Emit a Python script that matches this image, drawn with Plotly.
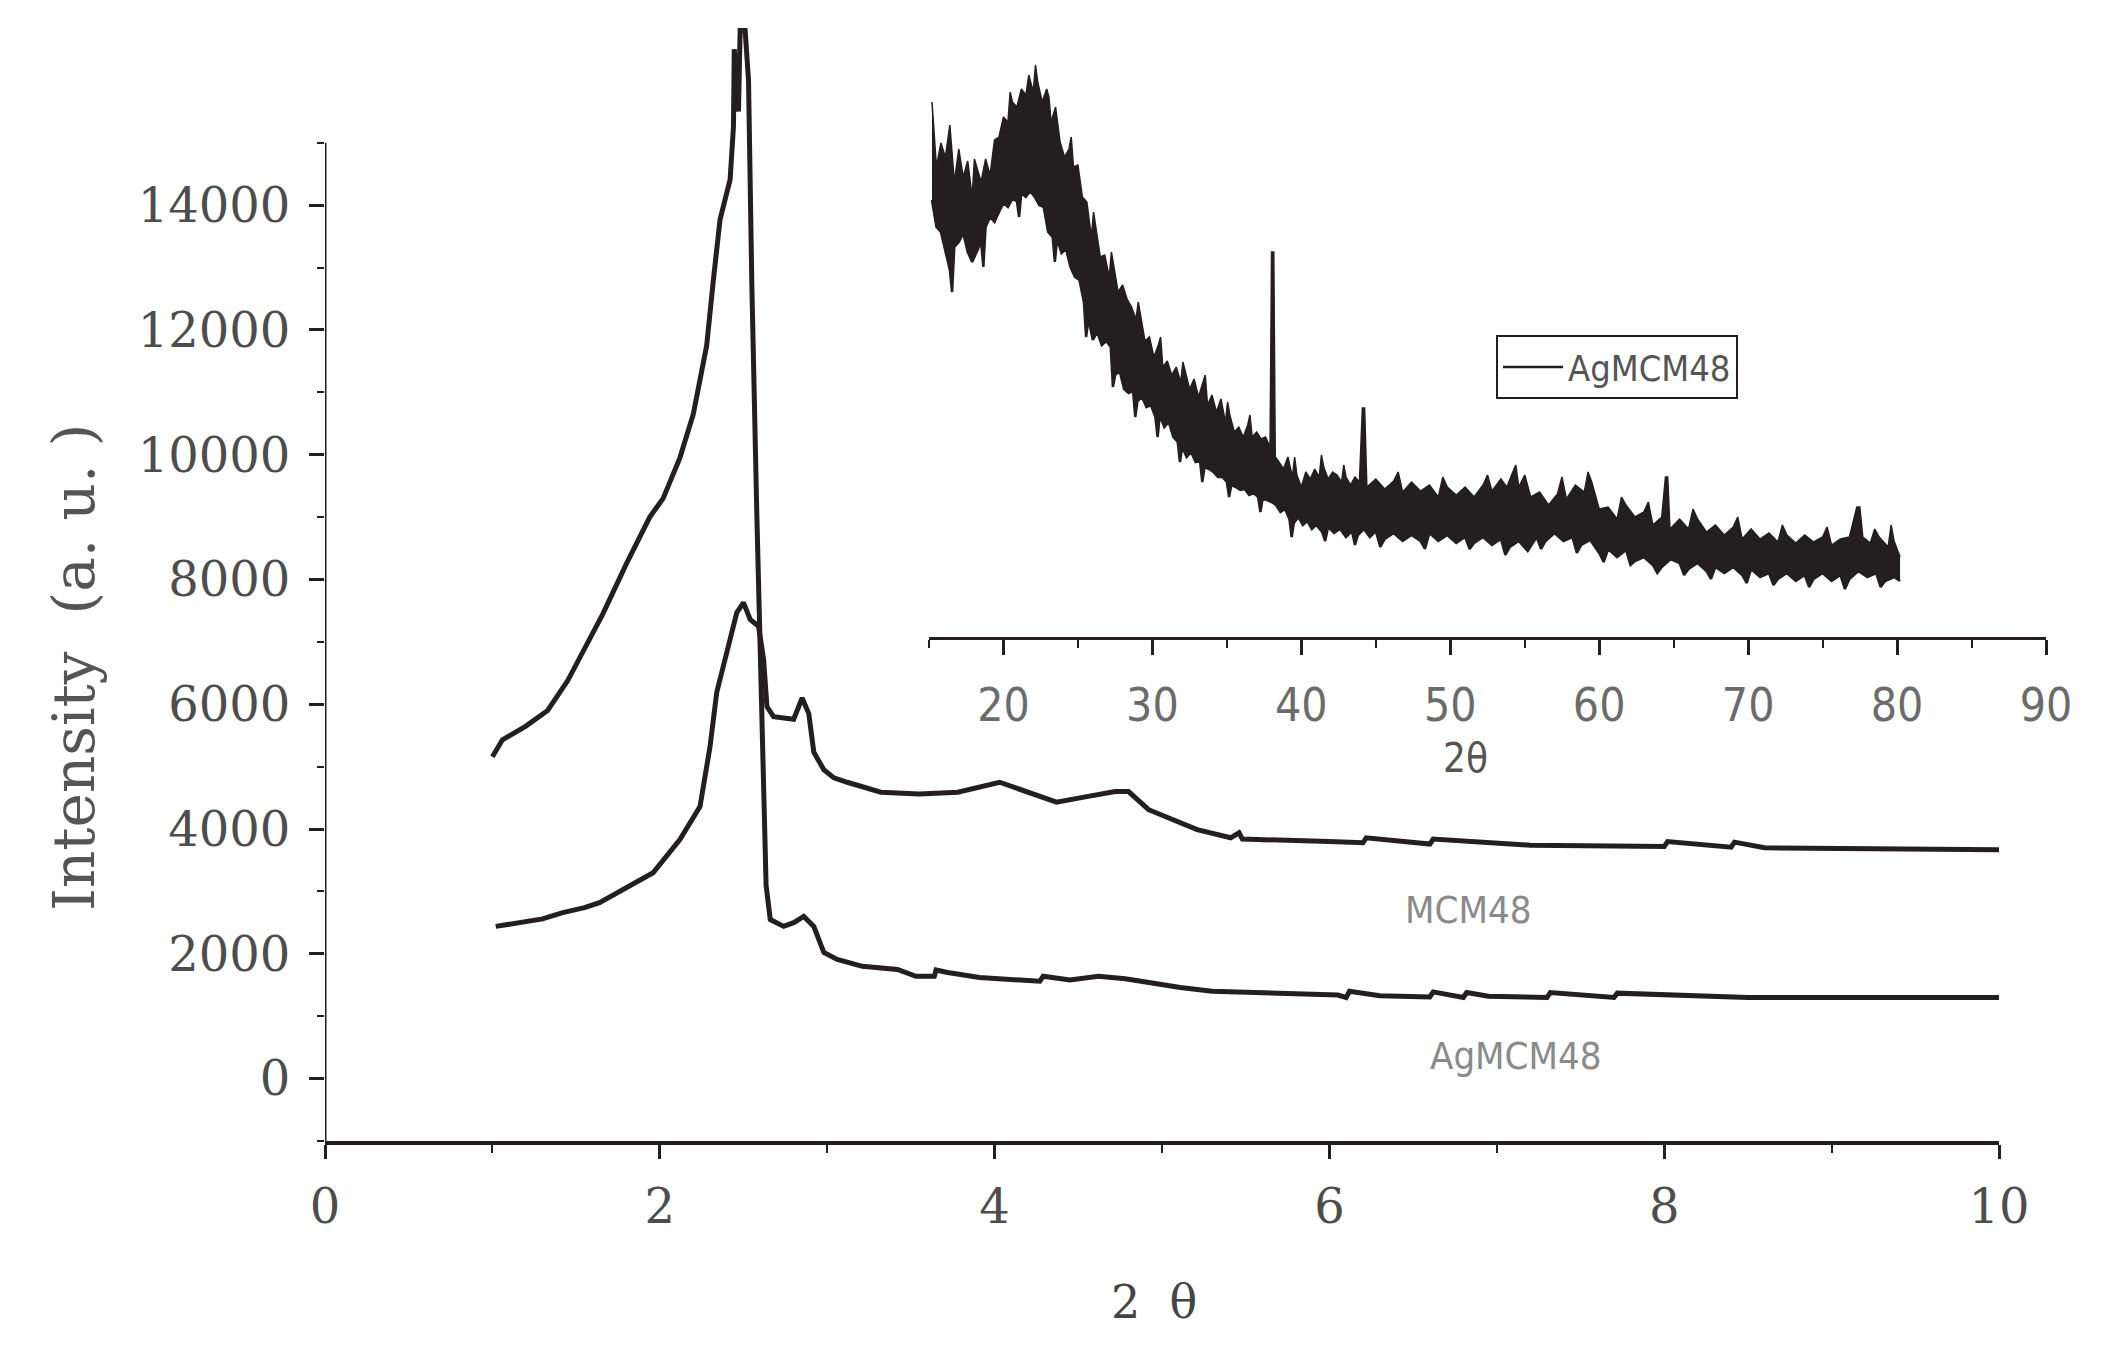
import plotly.graph_objects as go

# ---- low angle XRD (main plot) ----
ag_x = [1.00, 1.06, 1.20, 1.33, 1.45, 1.52, 1.66, 1.80, 1.94, 2.02,
        2.12, 2.20, 2.28, 2.32, 2.36, 2.42, 2.44, 2.445, 2.47, 2.48,
        2.51, 2.53, 2.55, 2.58, 2.60, 2.62, 2.635, 2.66, 2.74, 2.80,
        2.86, 2.92, 2.98, 3.06, 3.21, 3.42, 3.53, 3.64, 3.65, 3.72,
        3.91, 4.27, 4.29, 4.45, 4.62, 4.78, 4.95, 5.11, 5.30, 5.51,
        6.05, 6.10, 6.12, 6.30, 6.60, 6.62, 6.80, 6.82, 6.95, 7.30,
        7.32, 7.70, 7.72, 8.50, 10.00]
ag_y = [5160, 5430, 5650, 5900, 6380, 6750, 7450, 8250, 9000, 9300,
        9950, 10650, 11750, 12800, 13770, 14410, 15260, 16500, 15500, 16800,
        16800, 16000, 12700, 9000, 6600, 4500, 3100, 2550, 2440, 2500,
        2600, 2440, 2020, 1910, 1800, 1750, 1640, 1640, 1740, 1700,
        1620, 1560, 1640, 1580, 1640, 1600, 1520, 1460, 1400, 1380,
        1340, 1300, 1400, 1330, 1310, 1390, 1300, 1380, 1320, 1300,
        1380, 1300, 1370, 1300, 1300]

mcm_x = [1.02, 1.16, 1.30, 1.42, 1.55, 1.64, 1.78, 1.96, 2.12, 2.24,
         2.30, 2.34, 2.40, 2.46, 2.50, 2.54, 2.59, 2.62, 2.64, 2.68,
         2.80, 2.85, 2.89, 2.92, 2.98, 3.04, 3.12, 3.32, 3.55, 3.78,
         4.03, 4.20, 4.37, 4.55, 4.72, 4.80, 4.92, 5.21, 5.41, 5.46,
         5.48, 6.00, 6.20, 6.22, 6.50, 6.60, 6.62, 7.20, 8.00, 8.02,
         8.40, 8.42, 8.60, 10.00]
mcm_y = [2440, 2490, 2560, 2660, 2740, 2820, 3030, 3300, 3830, 4360,
         5320, 6190, 6830, 7470, 7630, 7360, 7250, 6720, 5960, 5800,
         5760, 6100, 5850, 5230, 4950, 4820, 4750, 4590, 4560, 4590,
         4750, 4600, 4430, 4520, 4600, 4600, 4310, 3990, 3860, 3940,
         3840, 3800, 3780, 3860, 3780, 3760, 3840, 3740, 3720, 3800,
         3710, 3790, 3700, 3670]

y_ticks = [0, 2000, 4000, 6000, 8000, 10000, 12000, 14000]
y_minor = [-1000, 1000, 3000, 5000, 7000, 9000, 11000, 13000, 15000]
x_ticks = [0, 2, 4, 6, 8, 10]

# ---- wide angle XRD of AgMCM48 (inset): noisy band, upper and lower edge ----
inset_upper = [
    (15.2, 535), (15.5, 470), (15.8, 494), (16.1, 480), (16.4, 512), (16.7, 455),
    (17.0, 488), (17.3, 460), (17.6, 476), (17.9, 440), (18.2, 470), (18.5, 455),
    (18.8, 478), (19.1, 462), (19.4, 497), (19.7, 500), (20.0, 520), (20.3, 515),
    (20.6, 535), (20.9, 530), (21.2, 548), (21.5, 542), (21.7, 562), (22.0, 545),
    (22.3, 555), (22.6, 535), (22.9, 548), (23.2, 515), (23.5, 530), (23.8, 495),
    (24.1, 480), (24.4, 488), (24.7, 470), (25.0, 472), (25.3, 440), (25.6, 435),
    (25.9, 400), (26.2, 410), (26.5, 380), (26.8, 382), (27.1, 360), (27.4, 370),
    (27.7, 345), (28.0, 352), (28.3, 338), (28.6, 330), (28.9, 318), (29.2, 322),
    (29.5, 296), (29.8, 300), (30.1, 280), (30.4, 292), (30.7, 270), (31.0, 276),
    (31.3, 262), (31.6, 270), (31.9, 255), (32.2, 266), (32.5, 248), (32.8, 258),
    (33.1, 240), (33.4, 255), (33.7, 232), (34.0, 242), (34.3, 225), (34.6, 238),
    (34.9, 215), (35.2, 222), (35.5, 205), (35.8, 210), (36.1, 200), (36.4, 212),
    (36.7, 200), (37.0, 205), (37.3, 198), (37.6, 200), (37.9, 190), (38.0, 385),
    (38.15, 385), (38.25, 180), (38.5, 175), (38.8, 168), (39.1, 180), (39.4, 160),
    (39.7, 162), (40.0, 150), (40.3, 165), (40.6, 158), (40.9, 168), (41.2, 160),
    (41.5, 170), (41.8, 158), (42.1, 165), (42.4, 162), (42.7, 155), (43.0, 160),
    (43.3, 152), (43.6, 160), (43.9, 155), (44.1, 229), (44.25, 229), (44.4, 150),
    (45.0, 158), (45.6, 148), (46.2, 156), (46.8, 145), (47.4, 155), (48.0, 146),
    (48.6, 152), (49.2, 140), (49.8, 150), (50.4, 142), (51.0, 150), (51.6, 140),
    (52.2, 152), (52.8, 146), (53.4, 158), (53.8, 150), (54.2, 165), (54.6, 150),
    (55.0, 162), (55.4, 140), (56.0, 145), (56.6, 132), (57.2, 143), (57.8, 138),
    (58.4, 152), (59.0, 145), (59.5, 155), (60.0, 128), (60.6, 130), (61.2, 118),
    (61.8, 132), (62.4, 120), (63.0, 125), (63.6, 112), (64.2, 120), (64.45, 160),
    (64.6, 160), (64.75, 108), (65.4, 118), (66.0, 108), (66.6, 118), (67.2, 105),
    (67.8, 112), (68.4, 102), (69.0, 110), (69.6, 98), (70.2, 108), (70.8, 98),
    (71.4, 104), (72.0, 95), (72.6, 102), (73.2, 94), (73.8, 102), (74.4, 95),
    (75.0, 100), (75.6, 92), (76.2, 98), (76.8, 100), (77.3, 130), (77.5, 130),
    (77.7, 100), (78.2, 94), (78.8, 100), (79.4, 90), (79.8, 96), (80.2, 80),
]
upper_needles = [
    (18.05, 478), (20.45, 545), (22.15, 572), (23.05, 540), (24.55, 500), (26.05, 425),
    (27.25, 385), (29.05, 335), (30.55, 300), (32.05, 275), (33.55, 262), (35.05, 235),
    (36.55, 222), (39.55, 180), (41.35, 182), (42.85, 172), (46.5, 165), (49.5, 160),
    (52.5, 162), (54.4, 172), (57.5, 160), (59.25, 165), (61.5, 140), (63.3, 135),
    (66.3, 128), (69.3, 120), (72.3, 112), (75.3, 110), (78.5, 108), (79.6, 112),
]
inset_lower = [
    (15.2, 437), (15.5, 410), (15.8, 405), (16.1, 385), (16.4, 367), (16.7, 390),
    (17.0, 395), (17.3, 404), (17.6, 385), (17.9, 375), (18.2, 385), (18.5, 395),
    (18.8, 410), (19.1, 420), (19.4, 415), (19.7, 425), (20.0, 434), (20.3, 430),
    (20.6, 438), (20.9, 436), (21.2, 444), (21.5, 440), (21.8, 446), (22.1, 440),
    (22.4, 432), (22.7, 430), (23.0, 405), (23.3, 400), (23.6, 398), (23.9, 384),
    (24.2, 388), (24.5, 370), (24.8, 360), (25.1, 357), (25.4, 335), (25.7, 318),
    (26.0, 297), (26.3, 305), (26.6, 292), (26.9, 296), (27.2, 290), (27.5, 262),
    (27.8, 266), (28.1, 248), (28.4, 244), (28.7, 246), (29.0, 236), (29.3, 240),
    (29.6, 230), (29.9, 232), (30.2, 220), (30.5, 222), (30.8, 210), (31.1, 215),
    (31.4, 200), (31.7, 195), (32.0, 190), (32.3, 180), (32.6, 185), (32.9, 175),
    (33.2, 176), (33.5, 170), (33.8, 168), (34.1, 165), (34.4, 160), (34.7, 160),
    (35.0, 155), (35.3, 152), (35.6, 150), (35.9, 147), (36.2, 148), (36.5, 142),
    (36.8, 144), (37.1, 140), (37.4, 138), (37.7, 137), (38.0, 135), (38.3, 132),
    (38.6, 125), (38.9, 128), (39.2, 118), (39.5, 114), (39.8, 120), (40.1, 112),
    (40.4, 116), (40.7, 108), (41.0, 112), (41.4, 105), (41.8, 110), (42.2, 104),
    (42.6, 108), (43.0, 100), (43.4, 106), (43.8, 102), (44.2, 108), (44.6, 100),
    (45.0, 106), (45.6, 98), (46.2, 104), (46.8, 96), (47.4, 102), (48.0, 96),
    (48.6, 104), (49.2, 96), (49.8, 102), (50.4, 94), (51.0, 100), (51.6, 94),
    (52.2, 100), (52.8, 92), (53.4, 98), (54.0, 90), (54.6, 96), (55.2, 86),
    (55.8, 100), (56.4, 96), (57.0, 104), (57.6, 96), (58.2, 100), (58.8, 92),
    (59.4, 97), (60.0, 84), (60.6, 88), (61.2, 80), (61.8, 87), (62.4, 76),
    (63.0, 80), (63.6, 72), (64.2, 70), (64.8, 78), (65.4, 74), (66.0, 68),
    (66.6, 74), (67.2, 66), (67.8, 70), (68.4, 64), (69.0, 70), (69.6, 62),
    (70.2, 68), (70.8, 60), (71.4, 64), (72.0, 58), (72.6, 64), (73.2, 56),
    (73.8, 62), (74.4, 58), (75.0, 64), (75.6, 56), (76.2, 62), (76.8, 58),
    (77.4, 66), (78.0, 60), (78.6, 64), (79.2, 56), (79.8, 60), (80.2, 56),
]
lower_needles = [
    (16.55, 345), (18.65, 370), (21.05, 420), (23.45, 375), (25.55, 300), (27.35, 250),
    (28.85, 220), (30.35, 200), (31.85, 175), (33.35, 155), (35.15, 140), (37.25, 125),
    (39.35, 100), (41.6, 96), (43.6, 92), (45.3, 90), (48.3, 88), (51.3, 88),
    (53.7, 82), (56.1, 88), (58.5, 84), (60.3, 75), (62.1, 72), (63.9, 64),
    (65.7, 62), (67.5, 58), (69.9, 54), (71.7, 52), (74.1, 50), (76.5, 48), (78.9, 50),
]
inset_ticks = [20, 30, 40, 50, 60, 70, 80, 90]

ink = "#231f20"
serif = "DejaVu Serif, Liberation Serif, serif"
narrow = "Liberation Sans Narrow, DejaVu Sans Condensed, Roboto Condensed, Liberation Sans, sans-serif"

fig = go.Figure()

fig.add_trace(go.Scatter(x=ag_x, y=ag_y, mode="lines", name="AgMCM48 (low angle)",
                         line=dict(color=ink, width=5), showlegend=False))
fig.add_trace(go.Scatter(x=mcm_x, y=mcm_y, mode="lines", name="MCM48",
                         line=dict(color=ink, width=5), showlegend=False))

lo_x, lo_y = zip(*sorted(inset_lower + lower_needles))
hi_x, hi_y = zip(*sorted(inset_upper + upper_needles))
fig.add_trace(go.Scatter(x=lo_x, y=lo_y, mode="lines", name="AgMCM48",
                         line=dict(color=ink, width=2.5),
                         xaxis="x2", yaxis="y2", showlegend=True))
fig.add_trace(go.Scatter(x=hi_x, y=hi_y, mode="lines", name="AgMCM48",
                         line=dict(color=ink, width=1.5), fill="tonexty", fillcolor=ink,
                         xaxis="x2", yaxis="y2", showlegend=False))

# the page has an 8 px body margin, so the figure is sized to fit inside it
W, H = 2096, 1352
L, R, T, B = 317, 50, 2, 219
PW, PH = W - L - R, H - T - B


def px(sx):
    return (sx - 325) / PW


def py(sy):
    return 1 - (sy - 10) / PH


fig.update_layout(
    width=W, height=H,
    margin=dict(l=L, r=R, t=T, b=B),
    paper_bgcolor="white", plot_bgcolor="white",
    xaxis=dict(domain=[0, px(1999)], range=[0, 10], tickvals=x_ticks,
               showgrid=False, zeroline=False, showline=True, linecolor=ink, linewidth=4,
               ticks="outside", ticklen=14, tickwidth=2.5, tickcolor=ink,
               minor=dict(dtick=1, ticks="outside", ticklen=8, tickwidth=2, tickcolor=ink),
               ticklabelstandoff=6,
               tickfont=dict(family=serif, size=48, color="#4d4d4d")),
    yaxis=dict(domain=[0, 1], range=[-1000, -1000 + PH / 0.06239], tickvals=y_ticks,
               tickformat="d",
               showgrid=False, zeroline=False, showline=False,
               ticks="outside", ticklen=15, tickwidth=2.5, tickcolor=ink,
               minor=dict(tickvals=y_minor, ticks="outside", ticklen=7, tickwidth=2, tickcolor=ink),
               ticklabelstandoff=9,
               tickfont=dict(family=serif, size=48, color="#4d4d4d")),
    xaxis2=dict(domain=[px(929), px(2046)], range=[15, 90], anchor="y2",
                tickvals=inset_ticks, showgrid=False, zeroline=False,
                showline=True, linecolor=ink, linewidth=3,
                ticks="outside", ticklen=15, tickwidth=2.5, tickcolor=ink,
                minor=dict(dtick=5, ticks="outside", ticklen=8, tickwidth=2, tickcolor=ink),
                ticklabelstandoff=11,
                tickfont=dict(family=narrow, size=46, color="#6b6b6b")),
    yaxis2=dict(domain=[py(637), py(57)], range=[0, 580], anchor="x2", visible=False),
    showlegend=True,
    legend=dict(x=px(1496), y=py(335), xanchor="left", yanchor="top",
                bgcolor="white", bordercolor=ink, borderwidth=2,
                font=dict(family=narrow, size=36, color="#555555"),
                itemwidth=60),
)

# main y axis line only spans the labelled range
fig.add_shape(type="line", xref="x", yref="y", x0=0, x1=0, y0=-1000, y1=15000,
              line=dict(color=ink, width=3))

annos = [
    dict(text="Intensity  (a. u. )", x=px(74), y=py(668), xref="paper", yref="paper",
         textangle=-90, font=dict(family=serif, size=58, color="#555555")),
    dict(text="2  θ", x=px(1154), y=py(1302), xref="paper", yref="paper",
         font=dict(family=serif, size=46, color="#444444")),
    dict(text="2θ", x=px(1465), y=py(758), xref="paper", yref="paper",
         font=dict(family=narrow, size=40, color="#555555")),
    dict(text="MCM48", x=6.83, y=2700, xref="x", yref="y",
         font=dict(family=narrow, size=38, color="#8a8a8a")),
    dict(text="AgMCM48", x=7.11, y=370, xref="x", yref="y",
         font=dict(family=narrow, size=38, color="#8a8a8a")),
]
for a in annos:
    fig.add_annotation(showarrow=False, xanchor="center", yanchor="middle", **a)

fig.write_html("out.html")
